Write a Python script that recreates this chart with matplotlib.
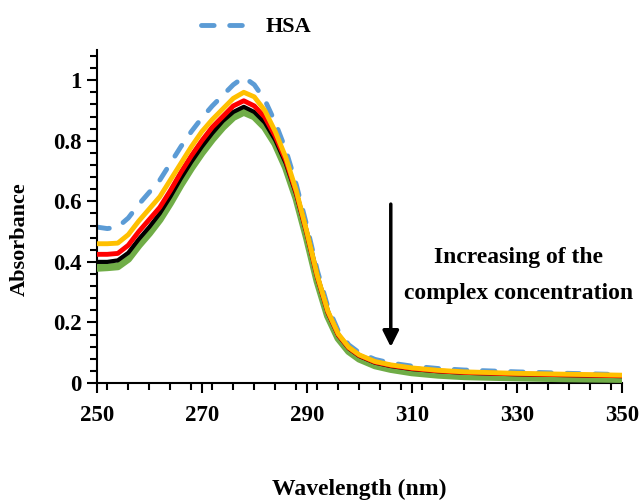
import matplotlib
matplotlib.use("Agg")
import matplotlib.pyplot as plt
from matplotlib.ticker import MultipleLocator

# wavelength grid (nm)
wavelength = [250, 252, 254, 256, 258, 260, 262, 264, 266, 268, 270, 272, 274, 276, 278,
              280, 282, 284, 286, 288, 290, 292, 294, 296, 298, 300, 303, 306, 310, 315,
              320, 330, 340, 350]

hsa = [0.515, 0.510, 0.515, 0.545, 0.590, 0.630, 0.670, 0.725, 0.780, 0.830, 0.875, 0.915,
       0.950, 0.985, 1.010, 0.985, 0.935, 0.860, 0.770, 0.655, 0.520, 0.372, 0.252, 0.172,
       0.126, 0.100, 0.078, 0.066, 0.056, 0.048, 0.043, 0.037, 0.032, 0.028]
c1 = [0.460, 0.460, 0.462, 0.490, 0.535, 0.575, 0.615, 0.670, 0.725, 0.780, 0.830, 0.870,
      0.905, 0.940, 0.960, 0.945, 0.900, 0.830, 0.745, 0.635, 0.500, 0.355, 0.238, 0.162,
      0.118, 0.093, 0.071, 0.060, 0.050, 0.042, 0.037, 0.032, 0.029, 0.026]
c2 = [0.425, 0.425, 0.428, 0.455, 0.500, 0.540, 0.580, 0.635, 0.695, 0.750, 0.800, 0.845,
      0.880, 0.915, 0.932, 0.915, 0.878, 0.815, 0.735, 0.628, 0.496, 0.351, 0.235, 0.159,
      0.116, 0.091, 0.069, 0.058, 0.048, 0.040, 0.035, 0.030, 0.027, 0.024]
c3 = [0.400, 0.400, 0.405, 0.430, 0.475, 0.515, 0.560, 0.615, 0.675, 0.730, 0.780, 0.825,
      0.865, 0.895, 0.912, 0.895, 0.860, 0.802, 0.725, 0.622, 0.492, 0.348, 0.232, 0.157,
      0.114, 0.089, 0.067, 0.056, 0.046, 0.039, 0.034, 0.029, 0.026, 0.023]
c4 = [0.380, 0.382, 0.385, 0.410, 0.455, 0.495, 0.540, 0.595, 0.655, 0.710, 0.760, 0.805,
      0.845, 0.878, 0.895, 0.880, 0.845, 0.790, 0.712, 0.610, 0.480, 0.337, 0.222, 0.148,
      0.105, 0.080, 0.058, 0.046, 0.035, 0.027, 0.022, 0.018, 0.015, 0.013]

plt.rcParams['font.family'] = ['Liberation Serif', 'DejaVu Serif']
plt.rcParams['font.weight'] = 'bold'

fig = plt.figure(figsize=(6.41, 5.04), dpi=100)
ax = fig.add_axes([0.151, 0.240, 0.819, 0.661])

hsa_line, = ax.plot(wavelength, hsa, color='#5B9BD5', lw=3.5, dashes=(2.6, 3.2),
                    dash_capstyle='round', zorder=2, label='HSA')
ax.plot(wavelength, c4, color='#70AD47', lw=5.5, zorder=3)
ax.plot(wavelength, c3, color='black', lw=3, zorder=4)
ax.plot(wavelength, c2, color='#FF0000', lw=3.5, zorder=5)
ax.plot(wavelength, c1, color='#FFC000', lw=3.5, zorder=6)

ax.set_xlim(250, 350)
ax.set_ylim(0, 1.1)
ax.set_xticks([250, 270, 290, 310, 330, 350])
ax.set_yticks([0, 0.2, 0.4, 0.6, 0.8, 1])
ax.set_yticklabels(['0', '0.2', '0.4', '0.6', '0.8', '1'])
ax.xaxis.set_minor_locator(MultipleLocator(4))
ax.yaxis.set_minor_locator(MultipleLocator(0.04))

for s in ['top', 'right']:
    ax.spines[s].set_visible(False)
for s in ['left', 'bottom']:
    ax.spines[s].set_linewidth(1.5)

ax.tick_params(which='major', direction='out', length=7, width=1.5, labelsize=16.5)
ax.tick_params(which='minor', direction='out', length=5, width=1.5)
ax.tick_params(axis='x', which='major', pad=9)
ax.tick_params(axis='y', which='major', pad=4)

ax.set_xlabel('Wavelength (nm)', fontsize=17, fontweight='bold', labelpad=38)
ax.set_ylabel('Absorbance', fontsize=16, fontweight='bold')
ax.yaxis.set_label_coords(-0.127, 0.433)

# arrow and note
ax.annotate('', xy=(306, 0.11), xytext=(306, 0.60),
            arrowprops=dict(arrowstyle='-|>', color='black', lw=2.5, mutation_scale=24))
ax.text(330.3, 0.355, 'Increasing of the\ncomplex concentration', ha='center', va='center',
        fontsize=17, fontweight='bold', linespacing=1.9)

fig.legend(handles=[hsa_line], loc='center', bbox_to_anchor=(0.400, 0.946), frameon=False,
           fontsize=16, handlelength=2.3, handletextpad=0.6)

fig.savefig('out.png', dpi=100)
